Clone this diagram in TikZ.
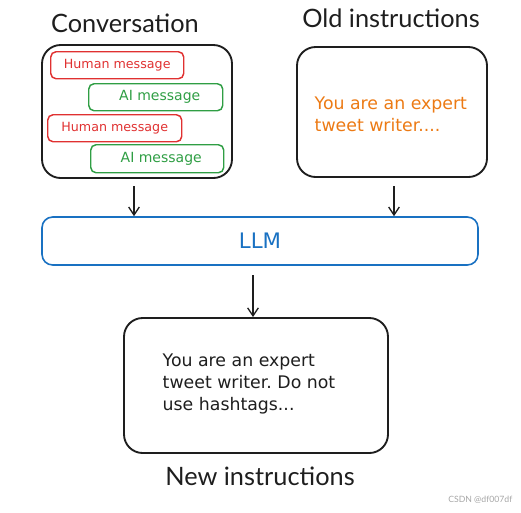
\documentclass[tikz,border=0pt]{standalone}
\usepackage{fontspec}
\setmainfont{Lato}
\newfontfamily\handfont{DejaVu Sans}
\usetikzlibrary{arrows.meta}
\definecolor{exred}{HTML}{E03131}
\definecolor{exgreen}{HTML}{2F9E44}
\definecolor{exblue}{HTML}{1971C2}
\definecolor{exorange}{HTML}{EC7A14}
\definecolor{exdark}{HTML}{1E1E1E}
\frenchspacing
\begin{document}
\begin{tikzpicture}[x=0.75pt,y=-0.75pt,
  bigbox/.style={draw=exdark,line width=1.4pt,rounded corners=14pt},
  msgbox/.style={line width=1.1pt,rounded corners=4pt},
  title/.style={font=\fontsize{19}{22}\selectfont,text=exdark},
  hand/.style={font=\handfont\fontsize{9.5}{12}\selectfont},
  body/.style={font=\handfont\fontsize{13}{16.5}\selectfont,align=left,anchor=west},
  arr/.style={draw=exdark,line width=1pt,-{Straight Barb[length=6pt,width=8pt]}}]
\useasboundingbox (0,0) rectangle (521,512);
% titles
\node[title] (tconv) at (125,23) {Conversation};
\node[title] (told) at (391,18) {Old instructions};
\node[title] (tnew) at (260,476) {New instructions};
% conversation box
\draw[bigbox] (42,45) rectangle (232,178);
\coordinate (convbot) at (134,186);
\node[msgbox,draw=exred,minimum width=133*0.75pt,minimum height=27*0.75pt,anchor=north west] (h1) at (50,51) {};
\node[text=exred,hand] at (h1.center) {Human message};
\node[msgbox,draw=exgreen,minimum width=134*0.75pt,minimum height=27*0.75pt,anchor=north west] (a1) at (88,83) {};
\node[text=exgreen,hand,font=\handfont\fontsize{10.5}{12}\selectfont] at ([xshift=3pt]a1.center) {AI message};
\node[msgbox,draw=exred,minimum width=134*0.75pt,minimum height=27*0.75pt,anchor=north west] (h2) at (47,114) {};
\node[text=exred,hand] at (h2.center) {Human message};
\node[msgbox,draw=exgreen,minimum width=133*0.75pt,minimum height=28*0.75pt,anchor=north west] (a2) at (90,144) {};
\node[text=exgreen,hand,font=\handfont\fontsize{10.5}{12}\selectfont] at ([xshift=3pt]a2.center) {AI message};
% old instructions box
\draw[bigbox] (297,47) rectangle (487,177);
\coordinate (oldbot) at (394,186);
\node[body,text=exorange] (oldtxt) at (310,114) {You are an expert\\tweet writer....};
% LLM
\node[draw=exblue,line width=1.2pt,rounded corners=8pt,minimum width=436*0.75pt,minimum height=48*0.75pt] (llm) at (260,241) {};
\node[text=exblue,font=\handfont\fontsize{16}{18}\selectfont] at (llm.center) {LLM};
% new box
\node[bigbox,minimum width=264*0.75pt,minimum height=135*0.75pt] (newb) at (256,385.5) {};
\node[body,text=exdark] (newtxt) at (158,384) {You are an expert\\tweet writer. Do not\\use hashtags...};
% arrows
\draw[arr] (convbot) -- (llm.north -| convbot);
\draw[arr] (oldbot) -- (llm.north -| oldbot);
\coordinate (llmout) at (253,275);
\draw[arr] (llmout) -- (newb.north -| llmout);
% watermark
\node[font=\fontsize{6.5}{8}\selectfont,text=black!35,anchor=east] (wm) at (517,500) {CSDN @df007df};
\end{tikzpicture}
\end{document}
